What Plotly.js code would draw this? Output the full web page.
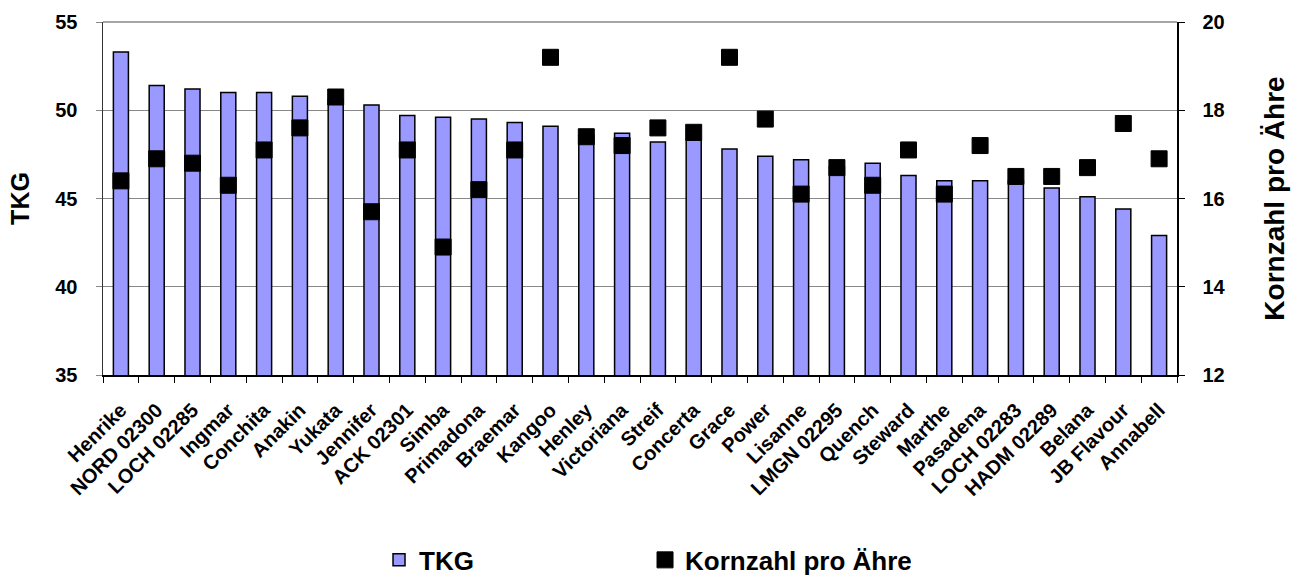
<!DOCTYPE html>
<html>
<head>
<meta charset="utf-8">
<script src="https://cdn.plot.ly/plotly-3.0.1.min.js"></script>
<style>html,body{margin:0;padding:0;background:#fff;}#chart{width:1305px;height:577px;}</style>
</head>
<body>
<div id="chart"></div>
<script>
const categories = ["Henrike","NORD 02300","LOCH 02285","Ingmar","Conchita","Anakin","Yukata","Jennifer","ACK 02301","Simba","Primadona","Braemar","Kangoo","Henley","Victoriana","Streif","Concerta","Grace","Power","Lisanne","LMGN 02295","Quench","Steward","Marthe","Pasadena","LOCH 02283","HADM 02289","Belana","JB Flavour","Annabell"];
const tkg = [53.3,51.4,51.2,51.0,51.0,50.8,50.6,50.3,49.7,49.6,49.5,49.3,49.1,48.6,48.7,48.2,48.3,47.8,47.4,47.2,46.8,47.0,46.3,46.0,46.0,46.0,45.6,45.1,44.4,42.9];
const kornzahl = [16.4,16.9,16.8,16.3,17.1,17.6,18.3,15.7,17.1,14.9,16.2,17.1,19.2,17.4,17.2,17.6,17.5,19.2,17.8,16.1,16.7,16.3,17.1,16.1,17.2,16.5,16.5,16.7,17.7,16.9];
const leftTicks = [35,40,45,50,55];
const rightTicks = [12,14,16,18,20];

const fontFam = "Liberation Sans, Arial, sans-serif";
const traces = [
  {type:"bar", name:"TKG", x:categories, y:tkg, yaxis:"y",
   marker:{color:"#9999FF", line:{color:"#000000", width:1.5}}, width:0.42},
  {type:"scatter", mode:"markers", name:"Kornzahl pro Ähre", x:categories, y:kornzahl, yaxis:"y2",
   marker:{symbol:"square", size:16, color:"#000000", line:{color:"#000000", width:1}}}
];
const layout = {
  width:1305, height:577,
  margin:{l:103, r:128, t:22, b:202, autoexpand:false},
  paper_bgcolor:"#ffffff", plot_bgcolor:"#ffffff",
  font:{family:fontFam, color:"#000", size:15},
  showlegend:true,
  legend:{orientation:"h", x:0.257, xanchor:"left", y:-0.524, yanchor:"middle",
          font:{family:fontFam, size:26, weight:"bold"}, entrywidth:221, itemwidth:30,
          traceorder:"normal"},
  xaxis:{type:"category", tickangle:-45, tickson:"boundaries", ticks:"outside", ticklen:6,
         tickcolor:"#000", showline:true, linecolor:"#000", linewidth:1.5, showgrid:false,
         ticklabelstandoff:14, automargin:false,
         tickfont:{family:fontFam, size:20, weight:"bold"}, range:[-0.5,29.5]},
  yaxis:{range:[35,55], tickvals:leftTicks, ticktext:leftTicks.map(String), ticks:"outside", ticklen:6,
         tickcolor:"#888", showline:true, linecolor:"#333", linewidth:1.5,
         showgrid:true, gridcolor:"#888", gridwidth:1, zeroline:false,
         ticklabelstandoff:14, automargin:false,
         tickfont:{family:fontFam, size:20, weight:"bold"},
         title:{text:"TKG", font:{family:fontFam, size:25, weight:"bold"}, standoff:18}},
  yaxis2:{range:[12,20], tickvals:rightTicks, ticktext:rightTicks.map(String), overlaying:"y", side:"right",
          ticks:"outside", ticklen:6, tickcolor:"#000", showline:true, linecolor:"#000", linewidth:1.5,
          showgrid:false, zeroline:false, ticklabelstandoff:14, automargin:false,
          tickfont:{family:fontFam, size:20, weight:"bold"},
          title:{text:"Kornzahl pro Ähre", font:{family:fontFam, size:28, weight:"bold"}, standoff:40}},
  shapes:[{type:"line", xref:"paper", yref:"paper", x0:0, x1:1, y0:1, y1:1, line:{color:"#888", width:1.5}}]
};
Plotly.newPlot("chart", traces, layout, {displayModeBar:false, staticPlot:true});
</script>
</body>
</html>
